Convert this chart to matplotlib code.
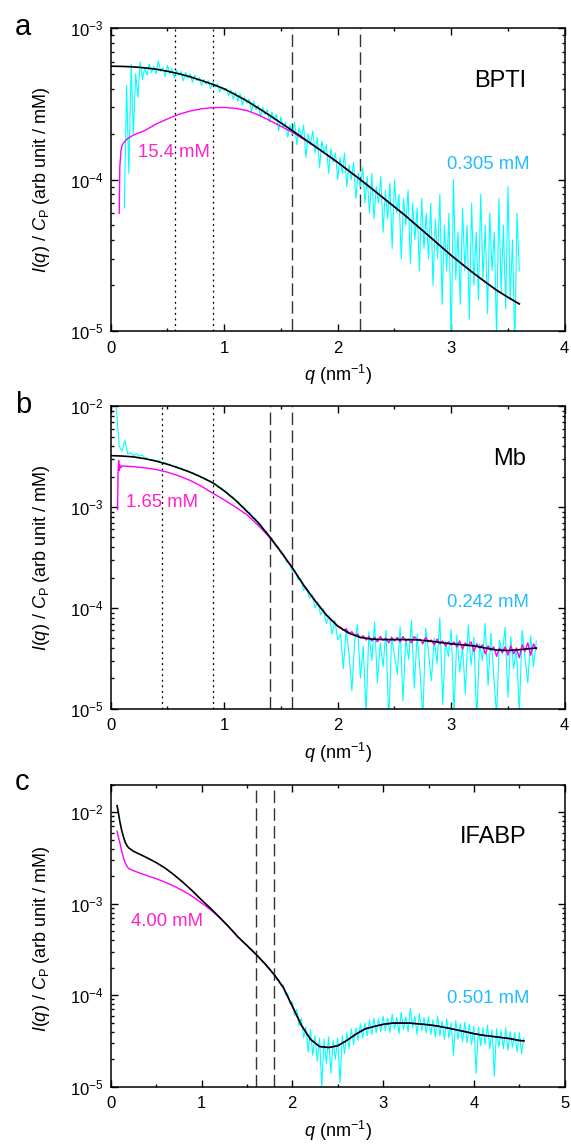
import numpy as np
import matplotlib
matplotlib.use('Agg')
import matplotlib.pyplot as plt
from matplotlib.ticker import FixedLocator, MultipleLocator, LogLocator, FuncFormatter, NullFormatter

plt.rcParams['font.family'] = ['Liberation Sans', 'DejaVu Sans']
plt.rcParams['mathtext.fontset'] = 'custom'
plt.rcParams['mathtext.rm'] = 'Liberation Sans'
plt.rcParams['mathtext.it'] = 'Liberation Sans:italic'
plt.rcParams['mathtext.default'] = 'regular'
plt.rcParams['lines.scale_dashes'] = False

UNIT = 1e-5  # all intensity values below are in units of 1e-5 (arb unit / mM)

# ---------------- Panel a : BPTI ----------------
q_black_a = np.round(np.arange(0.0, 3.601, 0.1), 3)
black_a = [56.2, 56.0, 55.6, 54.8, 53.7, 52.0, 50.1, 47.8, 45.2, 42.6, 39.8, 36.4, 33.1,
           29.7, 26.6, 23.7, 21.1, 18.7, 16.6, 14.7, 13.0, 11.4, 10.0, 8.73, 7.59, 6.61,
           5.75, 4.95, 4.27, 3.67, 3.16, 2.75, 2.40, 2.11, 1.86, 1.67, 1.51]
q_mag_a = [0.075, 0.08, 0.09, 0.10, 0.12, 0.15, 0.2, 0.3, 0.4, 0.5, 0.6, 0.7, 0.8, 0.9,
           1.0, 1.1, 1.2, 1.3, 1.4, 1.5, 1.6, 1.7, 1.8]
mag_a = [6.0, 12, 15.5, 16.8, 17.8, 18.7, 19.7, 21.1, 23.3, 25.2, 27.0, 28.4, 29.4, 29.9,
         30.0, 29.6, 28.6, 26.8, 24.6, 22.5, 20.6, 18.5, 16.6]
cyan_a = [6.5, 42, 11, 58, 20, 50, 35, 60, 46,
          55, 49, 58, 51, 56, 50, 61, 52, 55, 48, 57, 50, 54, 47, 53, 49, 52, 45, 51, 47,
          50, 44, 49, 45, 47, 42, 46, 43, 45, 40, 44, 41, 43, 38, 41, 39,
          40, 36, 39, 34, 38, 33, 37, 31, 35, 32, 34, 28, 33, 29, 31, 26, 30, 27, 29, 24,
          28, 25, 27, 21, 26, 22, 24, 19, 23, 20,
          24, 17, 22, 19, 23, 14, 20, 17, 21, 15, 19, 12, 18, 15, 17, 11, 16, 13, 15, 10,
          14, 11, 15, 9, 12.5, 10, 13, 7.5, 11, 9,
          12, 7, 10.5, 6, 11, 5.5, 9, 7, 10.5, 4.5, 8.5, 5.5, 9.5, 3.5, 10, 6, 8, 3, 7.5, 5,
          8.5, 2.8, 7, 4, 6.5, 2.5, 7.5, 3.5, 6, 3,
          7, 2, 5.5, 3, 8, 1.5, 5, 2.5, 6, 0.8, 10, 2.2, 4.5, 1.5, 6.5, 2.5, 5, 1.2, 7, 2,
          4.5, 1.6, 8, 2.2, 5, 1.3, 6, 2.5, 4.5, 0.9, 7.5, 1.8, 5, 1.4, 9, 1.6, 4, 0.8, 6, 2.5]
q_cyan_a = np.linspace(0.12, 3.60, len(cyan_a))

# ---------------- Panel b : Mb ----------------
q_black_b = list(np.round(np.arange(0.0, 3.701, 0.1), 3)) + [3.75]
black_b = [324, 321, 315, 302, 286, 266, 244, 222, 198, 174, 145, 117, 91, 70, 51, 36, 25,
           16.8, 11.8, 8.5, 6.6, 5.6, 5.1, 4.9, 4.85, 4.85, 4.85, 4.82, 4.70, 4.55, 4.40,
           4.30, 4.20, 4.00, 3.82, 3.78, 3.85, 3.95, 4.0]
q_mag_b_smooth = [0.06, 0.065, 0.07, 0.075, 0.08, 0.09, 0.10, 0.12, 0.2, 0.3, 0.4, 0.5, 0.6,
                  0.7, 0.8, 0.9, 1.0, 1.1, 1.2, 1.3, 1.4, 1.5, 1.6, 1.7, 1.8, 1.9, 2.0]
mag_b_smooth = [95, 220, 290, 230, 262, 245, 257, 255, 252, 245, 236, 222, 204, 184, 161,
                137, 118, 100, 84, 66, 50, 36, 25, 16.8, 11.8, 8.5, 6.6]
mag_b_noisy = [6.4, 6.0, 6.2, 5.6, 5.8, 5.3, 5.5, 5.0, 5.3, 4.8, 5.2, 4.7, 5.1, 4.6, 5.2, 4.8,
               5.0, 4.5, 5.1, 4.7,
               5.1, 4.6, 5.2, 4.7, 4.9, 4.5, 5.2, 4.8, 4.9, 4.4, 5.1, 4.6, 4.8, 4.3, 4.9, 4.4,
               4.7, 4.2, 4.6, 4.3,
               4.6, 4.1, 4.7, 3.9, 4.5, 4.2, 4.6, 3.7, 4.4, 4.0, 4.3, 3.5, 4.2, 3.8, 4.1, 3.3,
               4.0, 3.6, 4.1, 3.4,
               4.2, 3.5, 4.0, 3.2, 4.3, 3.7, 4.5, 3.4, 4.4, 3.9]
q_mag_b_noisy = np.linspace(2.025, 3.75, len(mag_b_noisy))
cyan_b = [950, 400, 360, 460, 335, 345, 325, 340, 320, 330, 310,
          304, 292, 296, 284, 289, 274, 277, 264, 266, 252, 255, 242, 243, 231, 232, 220,
          220, 208, 208, 196, 195, 184, 183, 172, 170, 158, 155, 143,
          141, 129, 127, 115, 113, 101, 99, 89, 88, 78, 77, 68, 67, 58, 57, 49, 48.5, 41.5,
          40.5, 34.5,
          34, 28.5, 28, 23, 23.5, 19, 19.5, 15, 16, 12.5, 13.5, 10, 11.5, 8.5, 9.8, 7.0,
          8.4, 5.5, 7.5, 4.8,
          5.5, 2.5, 6.2, 3.5, 1.5, 4.8, 6.8, 2.0, 4.2, 0.9, 5.8, 3.0, 7.2, 1.8, 4.5, 2.6,
          6.0, 0.7, 5.2, 3.4,
          2.2, 6.5, 1.2, 4.9, 3.1, 7.5, 1.6, 5.5, 2.4, 0.8, 6.3, 3.6, 1.9, 5.0, 2.8, 8.0,
          1.1, 4.6, 3.3, 6.1,
          0.9, 5.4, 2.3, 4.1, 1.4, 6.8, 2.7, 5.1, 0.75, 4.4, 3.0, 7.0, 1.7, 5.6, 2.1, 0.85,
          4.8, 3.5, 6.4, 1.3,
          5.2, 2.5, 4.0, 0.9, 6.0, 3.2, 1.8, 5.3, 2.6, 4.7]
q_cyan_b = np.linspace(0.05, 3.75, len(cyan_b))

# ---------------- Panel c : IFABP ----------------
q_black_c = ([0.07, 0.08, 0.09, 0.10, 0.12, 0.14, 0.16, 0.18, 0.20, 0.25, 0.3]
             + list(np.round(np.arange(0.4, 4.501, 0.1), 3)) + [4.55])
black_c = [1180, 1050, 920, 800, 640, 540, 470, 430, 407, 375, 355,
           318, 282, 245, 206, 170, 138, 110, 89, 71, 56, 43.5, 35, 28, 22, 16.8, 12.2,
           7.6, 4.7, 3.3, 2.75, 2.68, 2.8, 3.2, 3.75, 4.28, 4.55, 4.8, 4.95, 4.97, 4.95,
           4.85, 4.75, 4.6, 4.4, 4.2, 4.0, 3.8, 3.65, 3.55, 3.45, 3.35, 3.2, 3.17]
q_mag_c = [0.07, 0.08, 0.09, 0.10, 0.12, 0.14, 0.16, 0.18, 0.20, 0.25, 0.3,
           0.4, 0.5, 0.6, 0.7, 0.8, 0.9, 1.0, 1.1, 1.2, 1.3]
mag_c = [620, 560, 510, 470, 380, 320, 280, 255, 242, 230, 220,
         203, 188, 172, 155, 138, 120, 102, 86, 70, 56]
cyan_c = [35.5, 32.5, 32, 29, 28.5, 25.8, 25.5, 22.8, 22.5, 20, 20, 17.5, 17.4, 15, 15,
          12.8, 13, 10.2, 10.5, 8.0,
          8.5, 6.0, 7.0, 4.6, 5.6, 3.4, 4.5, 2.4, 4.2, 2.2, 3.6, 1.9, 3.4, 1.0, 3.3, 1.8,
          3.5, 1.4, 3.2, 2.0,
          3.4, 1.1, 3.6, 2.3, 3.9, 2.6, 4.3, 2.9, 4.4, 3.2, 4.9, 3.4, 5.0, 3.6, 5.4, 3.7,
          5.6, 3.9, 5.5, 4.0,
          5.9, 4.1, 5.6, 3.9, 6.2, 4.3, 5.7, 3.8, 6.5, 4.2, 5.8, 4.0, 7.2, 4.4, 5.9, 3.7,
          6.3, 4.1, 5.7, 3.9,
          5.8, 3.7, 5.4, 3.5, 5.9, 3.6, 5.2, 3.3, 5.5, 3.4, 5.0, 2.2, 5.3, 3.3, 4.9, 3.1,
          5.1, 3.0, 4.8, 2.9,
          4.6, 1.4, 4.5, 2.8, 4.4, 2.9, 4.7, 2.6, 4.2, 1.3, 4.3, 2.7, 4.1, 2.6, 4.4, 2.5,
          4.0, 2.7, 3.9, 2.4,
          3.9, 2.3, 3.4]
q_cyan_c = np.linspace(1.5, 4.55, len(cyan_c))

names = ['BPTI', 'Mb', 'IFABP']
conc_high = ['15.4 mM', '1.65 mM', '4.00 mM']
conc_low = ['0.305 mM', '0.242 mM', '0.501 mM']
dotted_q = [[0.57, 0.9], [0.45, 0.9], []]
dashed_q = [[1.6, 2.2], [1.4, 1.6], [1.6, 1.8]]

CYAN = '#00FFFF'
MAG = '#FF00FF'
CYAN_T = '#22BBFF'
MAG_T = '#FF22CC'

W, H = 571, 1146
fig = plt.figure(figsize=(W / 100, H / 100), dpi=100)


def fx(px):
    return px / W


def fy(py):
    return 1 - py / H


ax_left, ax_right = 110.7, 564.7
tops = [28.3, 406.3, 784.7]
bots = [331.0, 708.7, 1086.7]
axes = []
for t, b in zip(tops, bots):
    axes.append(fig.add_axes([fx(ax_left), fy(b), (ax_right - ax_left) / W, (b - t) / H]))

xmaxs = [4, 4, 5]
ylims = [(1e-5, 1e-3), (1e-5, 1e-2), (1e-5, 2e-2)]
ymajors = [[1e-5, 1e-4, 1e-3], [1e-5, 1e-4, 1e-3, 1e-2], [1e-5, 1e-4, 1e-3, 1e-2]]

data = [
    dict(cq=q_cyan_a, c=cyan_a, mq=[q_mag_a, q_black_a[19:]], m=[mag_a, black_a[19:]],
         bq=q_black_a, b=black_a),
    dict(cq=q_cyan_b, c=cyan_b, mq=[q_mag_b_smooth, q_mag_b_noisy], m=[mag_b_smooth, mag_b_noisy],
         bq=q_black_b, b=black_b),
    dict(cq=q_cyan_c, c=cyan_c, mq=[q_mag_c, q_black_c[21:]], m=[mag_c, black_c[21:]],
         bq=q_black_c, b=black_c),
]

for i, ax in enumerate(axes):
    d = data[i]
    for xq in dotted_q[i]:
        ax.axvline(xq, color='black', lw=0.9, linestyle=(0, (1.4, 2.6)), zorder=1)
    for xq in dashed_q[i]:
        ax.axvline(xq, color='#333333', lw=1.0, linestyle=(0, (9, 3.8)), zorder=1)
    ax.plot(d['cq'], np.array(d['c']) * UNIT, color=CYAN, lw=0.8, zorder=2)
    mq = np.concatenate([np.asarray(a, float) for a in d['mq']])
    mv = np.concatenate([np.asarray(a, float) for a in d['m']]) * UNIT
    ax.plot(mq, mv, color=MAG, lw=1.0, zorder=3)
    ax.plot(d['bq'], np.array(d['b']) * UNIT, color='black', lw=1.2, zorder=4)

    ax.set_xlim(0, xmaxs[i])
    ax.set_yscale('log')
    ax.set_ylim(*ylims[i])
    ax.xaxis.set_major_locator(MultipleLocator(1))
    ax.xaxis.set_minor_locator(MultipleLocator(0.5))
    ax.yaxis.set_major_locator(FixedLocator(ymajors[i]))
    ax.yaxis.set_minor_locator(LogLocator(base=10, subs=np.arange(2, 10)))
    ax.yaxis.set_minor_formatter(NullFormatter())
    ax.yaxis.set_major_formatter(FuncFormatter(lambda v, p: r'$10^{%d}$' % round(np.log10(v))))
    ax.tick_params(which='both', direction='in', top=True, right=True, width=1.0,
                   labelsize=12, colors='black')
    ax.tick_params(axis='x', which='major', length=5, pad=7)
    ax.tick_params(axis='y', which='major', length=5, pad=5)
    ax.tick_params(which='minor', length=2.5)
    for s in ax.spines.values():
        s.set_linewidth(1.1)
    ax.set_xlabel(r'$\mathit{q}$ (nm$^{-1}$)', fontsize=13)
    ax.xaxis.set_label_coords(0.5, -0.105)
    ax.set_ylabel(r'$\mathit{I}$($\mathit{q}$) / $\mathit{C}_{\mathrm{P}}$ (arb unit / mM)',
                  fontsize=13)
    ax.yaxis.set_label_coords(-0.129, 0.5 if i < 2 else 0.49)

# panel letters
for lab, yb in zip(['a', 'b', 'c'], [35.0, 412.7, 790.0]):
    fig.text(fx(14.6), fy(yb), lab, fontsize=21, va='baseline', ha='left')

# protein names
for name, yb in zip(names, [87.3, 465.3, 843.0]):
    fig.text(fx(526.4), fy(yb), name, fontsize=17, va='baseline', ha='right')

# concentration labels
for txt, (x, yb) in zip(conc_high, [(138.4, 157.3), (125.7, 507.0), (131.1, 925.7)]):
    fig.text(fx(x), fy(yb), txt, fontsize=13.3, color=MAG_T, va='baseline', ha='left')
for txt, yb in zip(conc_low, [169.3, 607.3, 1002.7]):
    fig.text(fx(529.3), fy(yb), txt, fontsize=13.3, color=CYAN_T, va='baseline', ha='right')

fig.savefig('out.png', dpi=100)
